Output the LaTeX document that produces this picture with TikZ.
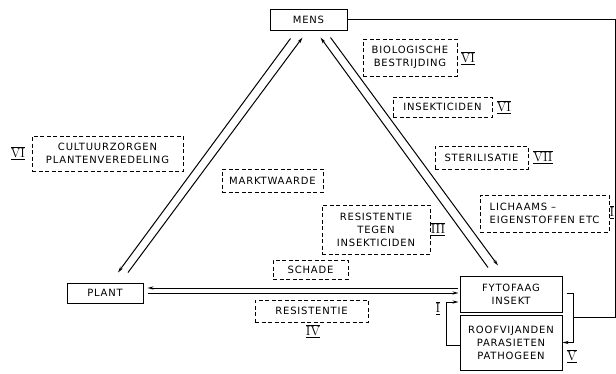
\documentclass[tikz,border=0pt]{standalone}
\usepackage{fontspec}
\usepackage{tikz}
\usetikzlibrary{arrows.meta}
\newfontfamily\lblfont[LetterSpace=8]{DejaVu Sans}
\newcommand{\rnum}[1]{\(\overline{\underline{\mbox{\rmfamily #1}}}\)}

\begin{document}
\begin{tikzpicture}[x=1pt,y=-1pt,
	box/.style={draw,line width=1pt,font=\lblfont\fontsize{10}{13}\selectfont,align=center,inner sep=0pt},
	dbox/.style={box,dash pattern=on 4pt off 2.5pt},
	arr/.style={-{Stealth[length=6pt,width=3.2pt]},line width=1pt},
	num/.style={font=\fontsize{13}{13}\selectfont,inner sep=0pt}]
	\useasboundingbox (0,0) rectangle (616,373);
	\node[box,minimum width=77,minimum height=21] (mens) at (308.5,19.5) {MENS};
	\node[box,minimum width=76,minimum height=20] (plant) at (105,293) {PLANT};
	\node[box,minimum width=102,minimum height=36] (fyt) at (511,294) {FYTOFAAG\\INSEKT};
	\node[box,minimum width=102,minimum height=55] (roof) at (511,342.5) {ROOFVIJANDEN\\PARASIETEN\\PATHOGEEN};
	\node[dbox,minimum width=94,minimum height=37] (bio) at (410,57.5) {BIOLOGISCHE\\BESTRIJDING};
	\node[dbox,minimum width=99,minimum height=20] (insek) at (442.5,107) {INSEKTICIDEN};
	\node[dbox,minimum width=93,minimum height=23] (steril) at (481.5,157.5) {STERILISATIE};
	\node[dbox,minimum width=129,minimum height=37,align=left] (lich) at (544.5,213.5) {LICHAAMS –\\EIGENSTOFFEN ETC};
	\node[dbox,minimum width=151,minimum height=35] (cult) at (107.5,153.5) {CULTUURZORGEN\\PLANTENVEREDELING};
	\node[dbox,minimum width=101,minimum height=23] (markt) at (272.5,180.5) {MARKTWAARDE};
	\node[dbox,minimum width=108,minimum height=49] (resins) at (376,229.5) {RESISTENTIE\\TEGEN\\INSEKTICIDEN};
	\node[dbox,minimum width=75,minimum height=19] (schade) at (310.5,269.5) {SCHADE};
	\node[dbox,minimum width=113,minimum height=22] (resist) at (311.5,311) {RESISTENTIE};
	\node[num] (nbio) at (468,58) {\rnum{VI}};
	\node[num] (ninsek) at (504,107) {\rnum{VI}};
	\node[num] (nsteril) at (543,157) {\rnum{VII}};
	\node[num] (nlich) at (612,212) {\rnum{I}};
	\node[num] (ncult) at (18,153) {\rnum{VI}};
	\node[num] (nresins) at (438,229) {\rnum{III}};
	\node[num] (nresist) at (313,331) {\rnum{IV}};
	\node[num] (nfyt) at (438,308) {\rnum{I}};
	\node[num] (nroof) at (572,356) {\rnum{V}};
	\coordinate (joint) at (573,317);
	\draw[arr] ([shift={(-18,8)}]mens.south) -- ([shift={(13,-10)}]plant.north);
	\draw[arr] ([shift={(23,-10)}]plant.north) -- ([shift={(-6,7)}]mens.south);
	\draw[arr] ([shift={(-23,-8)}]fyt.north) -- ([shift={(12,7)}]mens.south);
	\draw[arr] ([shift={(22,7)}]mens.south) -- ([shift={(-13,-10)}]fyt.north);
	\draw[arr] ([shift={(-2,-6)}]fyt.west) -- ([shift={(4,-5)}]plant.east);
	\draw[arr] ([shift={(4,0)}]plant.east) -- ([shift={(-1,-1)}]fyt.west);
	\draw[arr] ([shift={(4,-1)}]fyt.east) -- ++(7,0) |- (roof.east);
	\draw[arr] ([yshift=-2.5pt]roof.west) -- ++(-13,0) |- ([shift={(-1,8)}]fyt.west);
	\draw[line width=1pt] (mens.east) -| (615,317) -- (joint);
\end{tikzpicture}
\end{document}
